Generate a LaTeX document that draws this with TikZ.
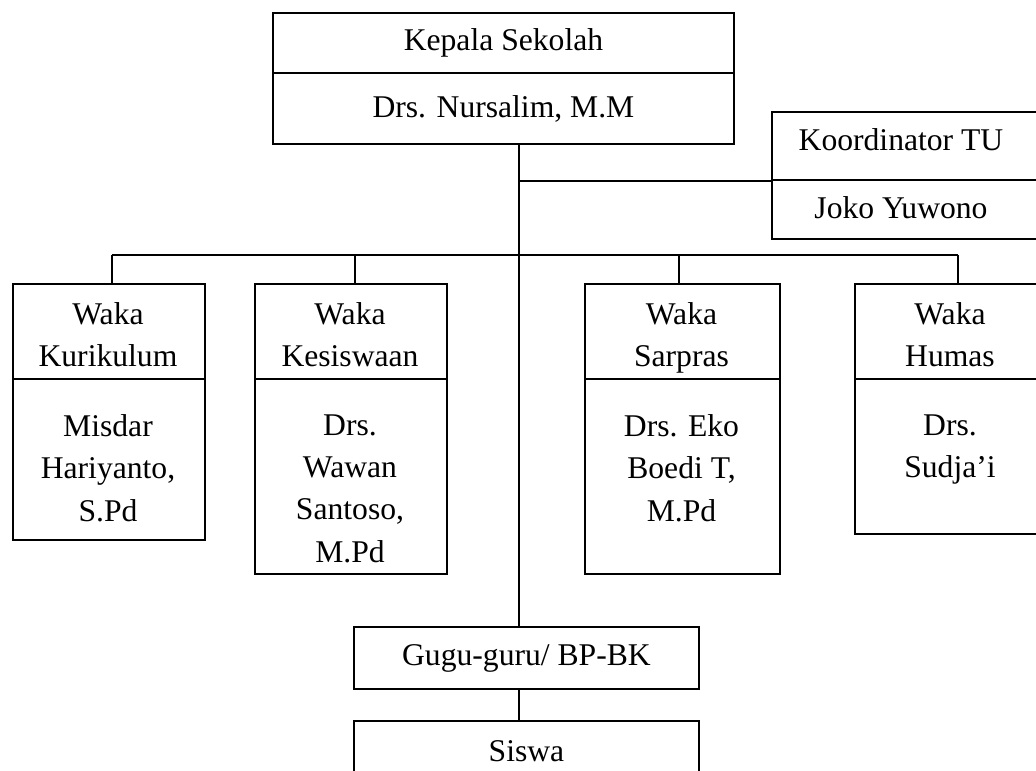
\documentclass[tikz,border=0pt]{standalone}
\usepackage{fontspec}
\setmainfont{Liberation Serif}
\usepackage{tikz}

\begin{document}
\begin{tikzpicture}[x=0.02cm, y=-0.02cm,
    cell/.style={draw, rectangle, anchor=north west, inner sep=0pt, align=center,
                 line width=1.1pt, font=\fontsize{18}{24}\selectfont},
    txt/.style={inner sep=0pt, align=center, anchor=north, font=\fontsize{18}{24}\selectfont,
                execute at begin node=\strut, execute at end node=\strut},
    link/.style={line width=1.1pt}]
            \def\pxu{0.02cm}

            % Page area
            \useasboundingbox (0,0) rectangle (1036,771);
            \fill[white] (0,0) rectangle (1036,771);
            \clip (0,0) rectangle (1036,771);

            % Kepala sekolah
            \node[cell, minimum width=461*\pxu, minimum height=60*\pxu] (kepA) at (272,12) {Kepala Sekolah};
            \node[cell, minimum width=461*\pxu, minimum height=71*\pxu] (kepB) at (272,72) {Drs. Nursalim, M.M};

            % Koordinator TU (runs past the right edge)
            \node[cell, minimum width=280*\pxu, minimum height=68*\pxu] (tuA) at (771,111) {};
            \node[cell, minimum width=280*\pxu, minimum height=59*\pxu] (tuB) at (771,179) {};
            \node[txt] (tuAt) at (901,120.5) {Koordinator TU};
            \node[txt] (tuBt) at (901,188.5) {Joko Yuwono};

            % Waka boxes
            \node[cell, minimum width=192*\pxu, minimum height=95*\pxu] (kurA) at (12,283) {};
            \node[cell, minimum width=192*\pxu, minimum height=95*\pxu] (kesA) at (254,283) {};
            \node[cell, minimum width=195*\pxu, minimum height=95*\pxu] (sarA) at (584,283) {};
            \node[cell, minimum width=192*\pxu, minimum height=95*\pxu] (humA) at (854,283) {};
            \node[cell, minimum width=192*\pxu, minimum height=161*\pxu] (kurB) at (12,378) {};
            \node[cell, minimum width=192*\pxu, minimum height=195*\pxu] (kesB) at (254,378) {};
            \node[cell, minimum width=195*\pxu, minimum height=195*\pxu] (sarB) at (584,378) {};
            \node[cell, minimum width=192*\pxu, minimum height=155*\pxu] (humB) at (854,378) {};

            % Waka texts
            \node[txt] (kurAt) at (108,302.5) {Waka\\Kurikulum};
            \node[txt] (kesAt) at (350,302.5) {Waka\\Kesiswaan};
            \node[txt] (sarAt) at (681.5,302.5) {Waka\\Sarpras};
            \node[txt] (humAt) at (950,302.5) {Waka\\Humas};
            \node[txt] (kurBt) at (108,414.5) {Misdar\\Hariyanto,\\S.Pd};
            \node[txt] (kesBt) at (350,414.5) {Drs.\\Wawan\\Santoso,\\M.Pd};
            \node[txt] (sarBt) at (681.5,414.5) {Drs. Eko\\Boedi T,\\M.Pd};
            \node[txt] (humBt) at (950,414.5) {Drs.\\Sudja'i};

            % Guru and siswa
            \node[cell, minimum width=345*\pxu, minimum height=62*\pxu] (guru) at (353,626) {Gugu-guru/ BP-BK};
            \node[cell, minimum width=345*\pxu, minimum height=60*\pxu] (siswa) at (353,720) {Siswa};

            % Lines
            \coordinate (trunk) at (519,0);
            \coordinate (bus) at (0,255);
            \draw[link] (kepB.south -| trunk) -- (guru.north -| trunk);
            \draw[link] (trunk |- tuA.south west) -- (tuA.south west);
            \draw[link] ([xshift=3*\pxu]kurA.north |- bus) -- ([xshift=7*\pxu]humA.north |- bus);
            \foreach \n/\dx in {kurA/3, kesA/4, sarA/-3.5, humA/7}
                \draw[link] ([xshift=\dx*\pxu]\n.north |- bus) -- ([xshift=\dx*\pxu]\n.north);
            \draw[link] (guru.south -| trunk) -- (siswa.north -| trunk);
        \end{tikzpicture}
\end{document}
